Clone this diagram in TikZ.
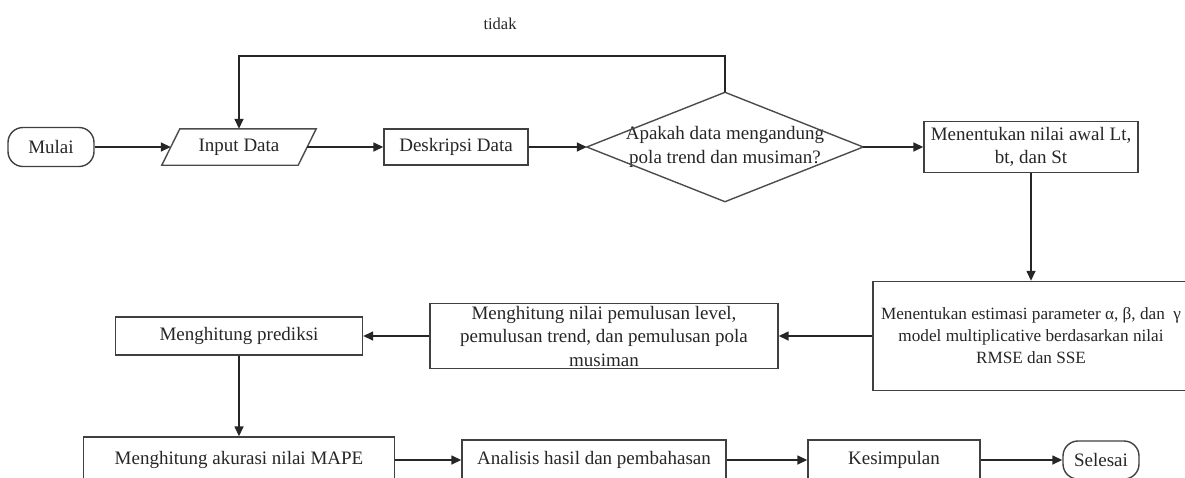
\documentclass[tikz,border=0pt]{standalone}
\usepackage{fontspec}
\setmainfont{Liberation Serif}
\usetikzlibrary{arrows.meta}
\begin{document}
\begin{tikzpicture}[x=1pt,y=-1pt,
  every node/.style={font=\fontsize{19pt}{23.5pt}\selectfont, text=black!85, inner sep=0pt},
  box/.style={draw=black!75, line width=1.4pt, align=center},
  term/.style={draw=black!75, line width=1.4pt, rounded corners=15pt},
  shapeline/.style={draw=black!70, line width=1.4pt},
  arr/.style={draw=black!85, line width=1.5pt, -{Triangle[length=10pt,width=9pt]}}]
\useasboundingbox (0,0) rectangle (1185,477);
\clip (0,0) rectangle (1185,477);
% nodes
\node[term, minimum width=86pt, minimum height=39pt] (mulai) at (51,147) {Mulai};
\node[minimum width=154pt, minimum height=36pt] (input) at (239,147) {Input Data};
\draw[shapeline] (input.south west) -- ([xshift=18pt]input.north west) -- (input.north east) -- ([xshift=-18pt]input.south east) -- cycle;
\node[box, minimum width=144pt, minimum height=36pt] (desk) at (456,147) {Deskripsi Data};
\node[minimum width=276pt, minimum height=109pt, align=center] (dec) at (725,147) {Apakah data mengandung\\pola trend dan musiman?};
\draw[shapeline] (dec.west) -- (dec.north) -- (dec.east) -- (dec.south) -- cycle;
\node[box, minimum width=214pt, minimum height=51pt] (awal) at (1031,147) {Menentukan nilai awal Lt,\\bt, dan St};
\node[box, minimum width=316pt, minimum height=109pt, font=\fontsize{17.2pt}{22pt}\selectfont] (est) at (1031,336) {Menentukan estimasi parameter α, β, dan \ γ\\model multiplicative berdasarkan nilai\\RMSE dan SSE};
\node[box, minimum width=348pt, minimum height=65pt] (pem) at (604,336) {Menghitung nilai pemulusan level,\\pemulusan trend, dan pemulusan pola\\musiman};
\node[box, minimum width=247pt, minimum height=38pt] (pred) at (239,336) {Menghitung prediksi};
\node[box, minimum width=311pt, minimum height=46pt] (mape) at (239,460) {Menghitung akurasi nilai MAPE};
\node[box, minimum width=264pt, minimum height=40pt] (anal) at (594,460) {Analisis hasil dan pembahasan};
\node[box, minimum width=172pt, minimum height=40pt] (kes) at (894,460) {Kesimpulan};
\node[term, minimum width=76pt, minimum height=38pt] (sel) at (1101,460) {Selesai};
\node[font=\fontsize{16.5pt}{20pt}\selectfont] (tidak) at (500,24) {tidak};
\coordinate (looptop) at (725,56);
% connectors
\draw[arr] (mulai.east) -- ([xshift=9pt]input.west);
\draw[arr] ([xshift=-9pt]input.east) -- (desk.west);
\draw[arr] (desk.east) -- (dec.west);
\draw[arr] (dec.east) -- (awal.west);
\draw[arr] (dec.north) -- (looptop) -| (input.north);
\draw[arr] (awal.south) -- (est.north);
\draw[arr] (est.west) -- (pem.east);
\draw[arr] (pem.west) -- (pred.east);
\draw[arr] (pred.south) -- (mape.north);
\draw[arr] (mape.east) -- (anal.west);
\draw[arr] (anal.east) -- (kes.west);
\draw[arr] (kes.east) -- (sel.west);
\end{tikzpicture}
\end{document}
